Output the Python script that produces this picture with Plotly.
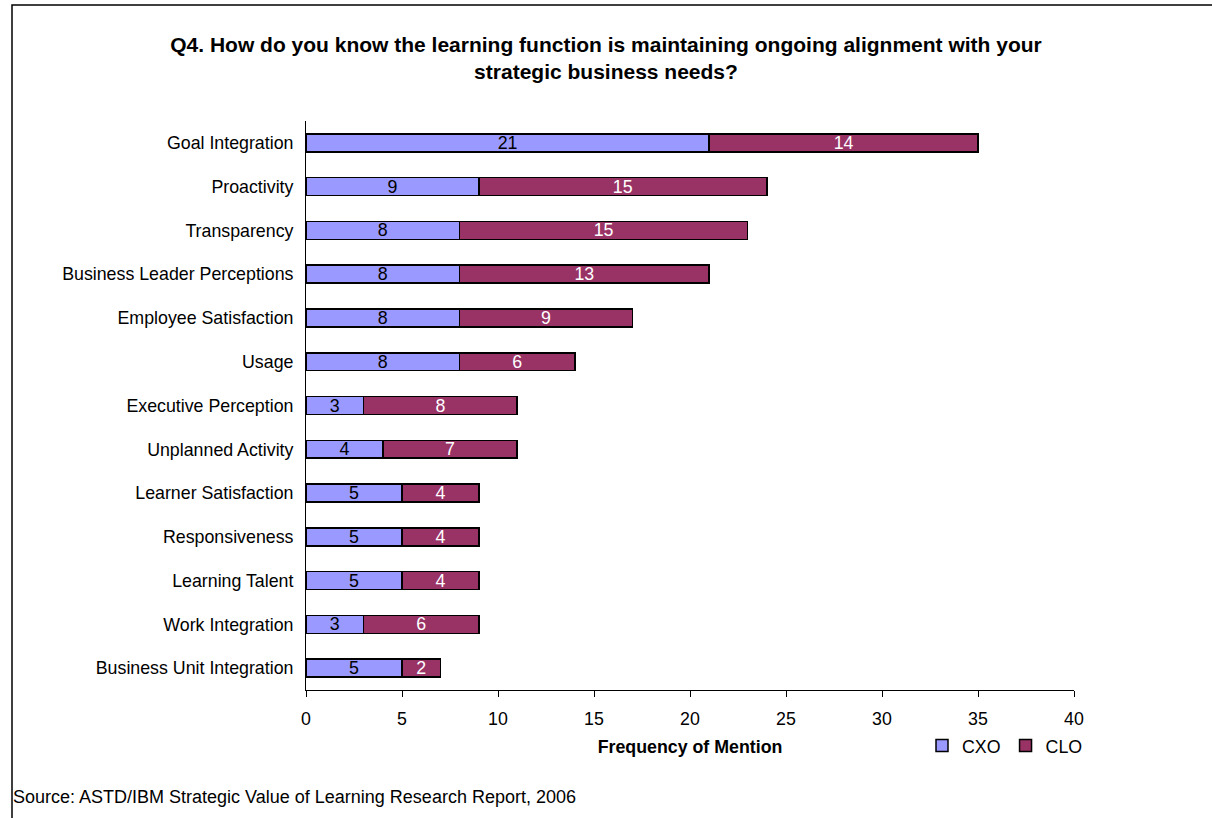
import plotly.graph_objects as go

categories = [
    "Goal Integration", "Proactivity", "Transparency", "Business Leader Perceptions",
    "Employee Satisfaction", "Usage", "Executive Perception", "Unplanned Activity",
    "Learner Satisfaction", "Responsiveness", "Learning Talent", "Work Integration",
    "Business Unit Integration",
]
cxo = [21, 9, 8, 8, 8, 8, 3, 4, 5, 5, 5, 3, 5]
clo = [14, 15, 15, 13, 9, 6, 8, 7, 4, 4, 4, 6, 2]
x_ticks = [0, 5, 10, 15, 20, 25, 30, 35, 40]

FONT = "Arial, Liberation Sans, sans-serif"
FS = 17.8
W, H = 1212, 818
L, R, T, B = 306, 138, 121, 128
pw, ph = W - L - R, H - T - B

def px_x(p):
    return (p - L) / pw

def px_y(p):
    return (H - B - p) / ph

fig = go.Figure()
fig.add_trace(go.Bar(
    y=categories, x=cxo, name="CXO", orientation="h",
    marker=dict(color="#9999FF", line=dict(color="black", width=1.5)),
    text=cxo, textposition="inside", insidetextanchor="middle", textangle=0,
    textfont=dict(color="black", size=FS, family=FONT), constraintext="none",
))
fig.add_trace(go.Bar(
    y=categories, x=clo, name="CLO", orientation="h",
    marker=dict(color="#993366", line=dict(color="black", width=1.5)),
    text=clo, textposition="inside", insidetextanchor="middle", textangle=0,
    textfont=dict(color="white", size=FS, family=FONT), constraintext="none",
))

fig.update_layout(
    width=W, height=H,
    barmode="stack", bargap=0.59,
    paper_bgcolor="white", plot_bgcolor="white",
    margin=dict(l=L, r=R, t=T, b=B, autoexpand=False),
    font=dict(family=FONT, size=FS, color="black"),
    title=dict(
        text="<b>Q4. How do you know the learning function is maintaining ongoing alignment with your<br>strategic business needs?</b>",
        x=0.5, xref="container", xanchor="center",
        y=1 - 52 / H, yref="container", yanchor="top",
        font=dict(size=21, family=FONT, color="black"),
    ),
    xaxis=dict(
        range=[0, 40], tickvals=x_ticks, showgrid=False, zeroline=False,
        showline=True, linecolor="black", linewidth=1,
        ticks="outside", ticklen=6, tickcolor="black",
        tickfont=dict(size=FS), ticklabelstandoff=7,
        title=dict(text="<b>Frequency of Mention</b>", font=dict(size=FS), standoff=12),
    ),
    yaxis=dict(
        autorange="reversed", showgrid=False, zeroline=False,
        showline=True, linecolor="black", linewidth=1,
        ticks="", tickfont=dict(size=FS), ticklabelstandoff=8,
    ),
    legend=dict(
        orientation="h", x=px_x(922), xanchor="left", y=px_y(746), yanchor="middle",
        font=dict(size=FS), itemwidth=30, traceorder="normal",
        bgcolor="rgba(0,0,0,0)",
    ),
    showlegend=True,
)

fig.add_annotation(
    text="Source: ASTD/IBM Strategic Value of Learning Research Report, 2006",
    xref="paper", yref="paper", x=px_x(11), y=px_y(797),
    xanchor="left", yanchor="middle", showarrow=False,
    font=dict(size=18, family=FONT, color="black"),
)

fig.add_shape(
    type="rect", xref="paper", yref="paper",
    x0=px_x(12), x1=px_x(1240), y0=px_y(5), y1=px_y(860),
    line=dict(color="black", width=1.5), fillcolor="rgba(0,0,0,0)", layer="below",
)

fig.write_html(
    "out.html",
    config={"displayModeBar": False},
    post_script="document.body.style.margin='0';document.body.style.overflow='hidden';",
)
